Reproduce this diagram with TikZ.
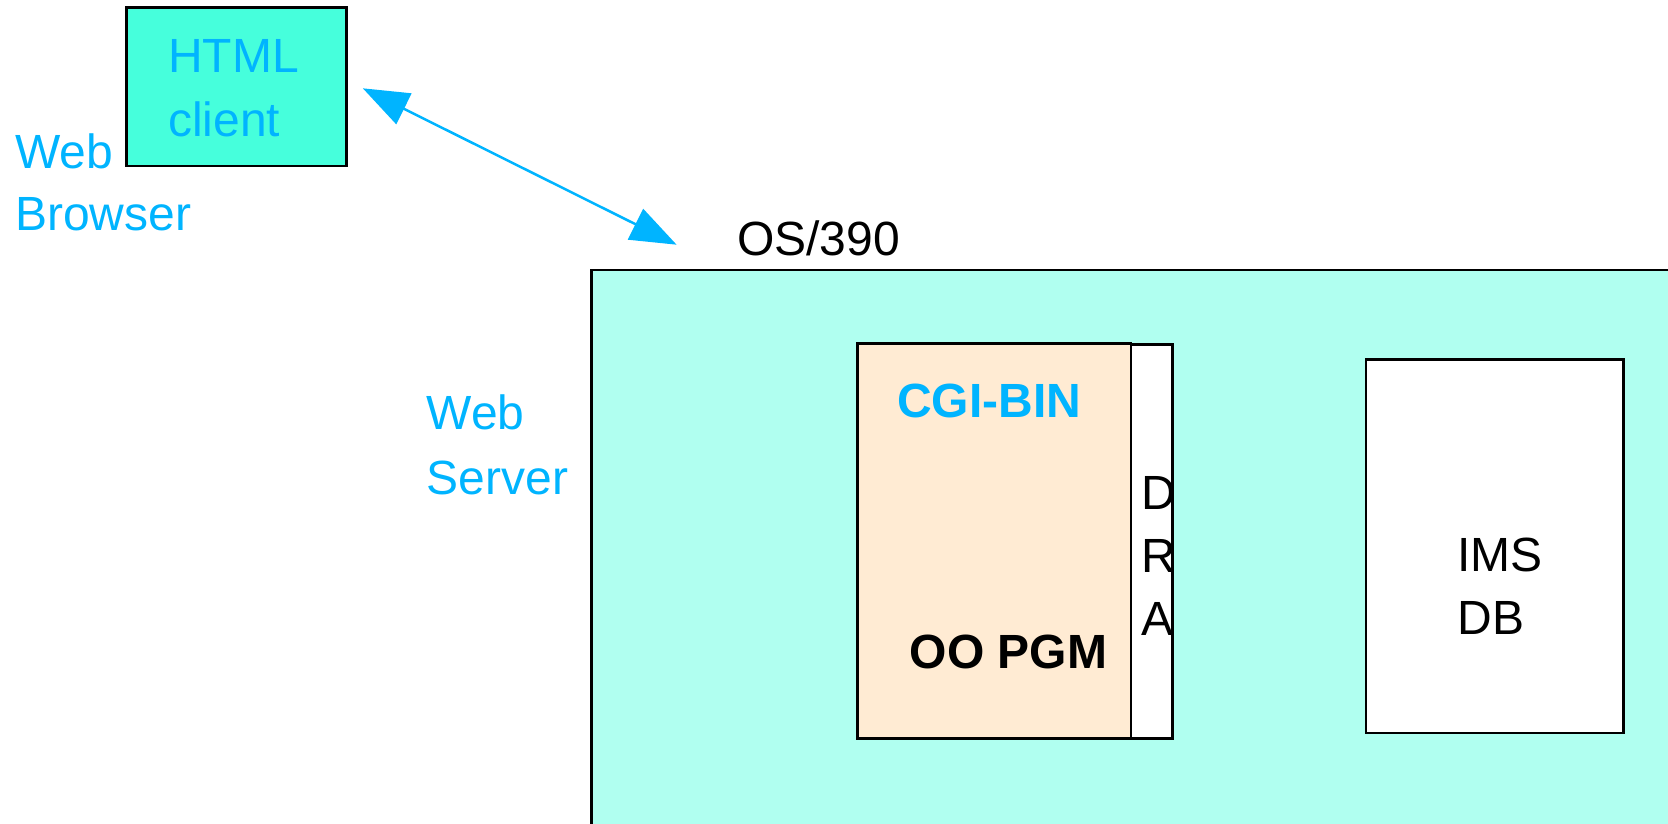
\documentclass[tikz,border=0pt]{standalone}
\usepackage{fontspec}
\setmainfont{Liberation Sans}
\usetikzlibrary{arrows.meta}
\definecolor{wblue}{RGB}{0,180,255}
\definecolor{htmlfill}{RGB}{70,255,220}
\definecolor{osfill}{RGB}{176,255,240}
\definecolor{cgifill}{RGB}{255,235,211}
\tikzset{
  box/.style={draw=black, line width=2.5pt, inner sep=0pt, outer sep=0pt},
  lbl/.style={anchor=base west, inner sep=0pt, font=\fontsize{48}{58}\selectfont},
  blbl/.style={lbl, font=\fontsize{48}{58}\selectfont\bfseries},
  conn/.style={draw=wblue, line width=2.5pt, {Triangle[length=46pt,width=34pt]}-{Triangle[length=46pt,width=34pt]}}
}
\begin{document}
\begin{tikzpicture}[x=1pt,y=-1pt]
\useasboundingbox (0,0) rectangle (1668,823);
\clip (0,0) rectangle (1668,823);
% boxes
\node[box, fill=osfill, minimum width=1108.5pt, minimum height=590pt] (os) at (1145.75,565) {};
\node[box, fill=htmlfill, minimum width=220pt, minimum height=158.6pt] (html) at (236.7,86.7) {};
\node[box, fill=cgifill, minimum width=273.4pt, minimum height=394.7pt] (cgi) at (994.1,541) {};
\node[box, fill=white, minimum width=41.5pt, minimum height=393.6pt] (dra) at (1151.5,541.5) {};
\node[box, fill=white, minimum width=257.4pt, minimum height=373.4pt] (ims) at (1494.7,546.3) {};
% texts
\node[lbl, text=wblue] (t1) at (168,72) {HTML};
\node[lbl, text=wblue] (t2) at (168,136) {client};
\node[lbl, text=wblue] (t3) at (15,168) {Web};
\node[lbl, text=wblue] (t4) at (15,230) {Browser};
\node[lbl] (t5) at (737,255) {OS/390};
\node[lbl, text=wblue] (t6) at (426.6,429) {Web};
\node[lbl, text=wblue] (t7) at (426.6,494) {Server};
\node[blbl, text=wblue] (t8) at (897,417) {CGI-BIN};
\node[blbl] (t9) at (909.5,668) {OO PGM};
\node[lbl] (t10) at (1141.5,509.6) {D};
\node[lbl] (t11) at (1141.5,572) {R};
\node[lbl] (t12) at (1141.5,635) {A};
\node[lbl] (t13) at (1457.4,571) {IMS};
\node[lbl] (t14) at (1457.4,634) {DB};
% connector
\coordinate (a1) at (362.8,88.3);
\coordinate (a2) at (676.6,244.7);
\draw[conn] (a1) -- (a2);
\end{tikzpicture}
\end{document}
